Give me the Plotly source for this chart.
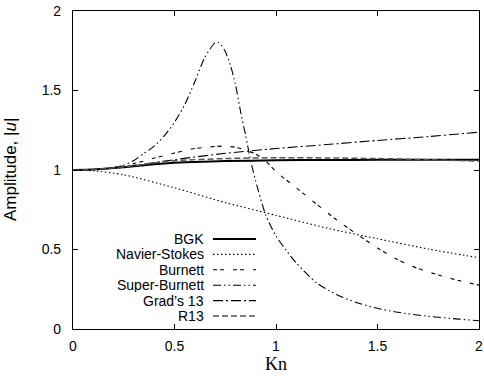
import plotly.graph_objects as go

# ---------------- data ----------------
kn_bgk = [0, 0.1, 0.2, 0.3, 0.4, 0.5, 0.6, 0.75, 1.0, 1.25, 1.5, 1.75, 2.0]
amp_bgk = [1.0, 1.003, 1.012, 1.024, 1.036, 1.045, 1.051, 1.056, 1.061, 1.063, 1.064, 1.065, 1.065]

kn_ns = [0, 0.1, 0.25, 0.5, 0.75, 1.0, 1.25, 1.5, 1.75, 2.0]
amp_ns = [1.0, 0.995, 0.97, 0.888, 0.795, 0.715, 0.635, 0.568, 0.503, 0.448]

kn_burnett = [0, 0.1, 0.2, 0.3, 0.4, 0.5, 0.6, 0.7, 0.75, 0.8, 0.85, 0.9, 0.95,
              1.0, 1.1, 1.2, 1.3, 1.4, 1.5, 1.6, 1.7, 1.8, 1.9, 2.0]
amp_burnett = [1.0, 1.003, 1.015, 1.04, 1.075, 1.107, 1.135, 1.148, 1.15, 1.143, 1.125, 1.10, 1.055,
               0.99, 0.888, 0.785, 0.685, 0.595, 0.51, 0.435, 0.38, 0.34, 0.305, 0.276]

kn_sb = [0, 0.1, 0.2, 0.25, 0.3, 0.35, 0.4, 0.45, 0.5, 0.55, 0.6, 0.65, 0.7, 0.72,
         0.75, 0.775, 0.8, 0.825, 0.85, 0.875, 0.9, 0.95, 1.0, 1.05, 1.1, 1.2, 1.3,
         1.4, 1.5, 1.6, 1.75, 1.9, 2.0]
amp_sb = [1.0, 1.002, 1.015, 1.03, 1.06, 1.105, 1.15, 1.215, 1.30, 1.41, 1.555, 1.71, 1.80, 1.80,
          1.745, 1.66, 1.54, 1.37, 1.22, 1.06, 0.93, 0.715, 0.585, 0.495, 0.415, 0.29, 0.215,
          0.165, 0.13, 0.105, 0.08, 0.062, 0.052]

kn_g13 = [0, 0.1, 0.25, 0.5, 0.75, 1.0, 1.25, 1.5, 1.75, 2.0]
amp_g13 = [1.0, 1.003, 1.02, 1.065, 1.105, 1.135, 1.16, 1.186, 1.21, 1.238]

kn_r13 = [0, 0.1, 0.25, 0.5, 0.75, 1.0, 1.25, 1.5, 1.75, 2.0]
amp_r13 = [1.0, 1.003, 1.02, 1.058, 1.072, 1.077, 1.076, 1.072, 1.065, 1.056]

series_names = ["BGK", "Navier-Stokes", "Burnett", "Super-Burnett", "Grad\u2019s 13", "R13"]
x_ticks = [0, 0.5, 1, 1.5, 2]
x_tick_labels = ["0", "0.5", "1", "1.5", "2"]
y_ticks = [0, 0.5, 1, 1.5, 2]
y_tick_labels = ["0", "0.5", "1", "1.5", "2"]
x_title = "Kn"
y_title = "Amplitude, |<i>u</i>|"

# ---------------- styles ----------------
styles = [
    dict(color="#000000", width=2.0, dash="solid"),
    dict(color="#000000", width=1.1, dash="1.5px,2.5px"),
    dict(color="#000000", width=1.1, dash="4px,3px,4px,9px"),
    dict(color="#000000", width=1.1, dash="8px,3px,1.5px,3px,1.5px,3px"),
    dict(color="#000000", width=1.1, dash="10px,3px,2px,3px"),
    dict(color="#555555", width=1.5, dash="6px,3px"),
]
xs = [kn_bgk, kn_ns, kn_burnett, kn_sb, kn_g13, kn_r13]
ys = [amp_bgk, amp_ns, amp_burnett, amp_sb, amp_g13, amp_r13]

fig = go.Figure()
for name, x, y, st in zip(series_names, xs, ys, styles):
    fig.add_trace(go.Scatter(x=x, y=y, mode="lines", name=name,
                             line=dict(shape="spline", smoothing=0.7, **st),
                             showlegend=False))

# ---------------- manual legend (text left, sample right) ----------------
W, H = 484, 376
ml, mr, mt, mb = 73, 5, 11, 47
pw, ph = W - ml - mr, H - mt - mb
text_right_px = 205
sample_x0_px, sample_x1_px = 213, 256
row0_px, row_step_px = 239, 15.4
shapes = []
annotations = []
for i, (name, st) in enumerate(zip(series_names, styles)):
    ypx = row0_px + i * row_step_px
    yp = (H - mb - ypx) / ph
    annotations.append(dict(x=(text_right_px - ml) / pw, y=yp, xref="paper", yref="paper",
                            text=name, showarrow=False, xanchor="right", yanchor="middle",
                            height=14, borderpad=0, valign="middle",
                            font=dict(family="Liberation Sans, Arial", size=14, color="#000")))
    shapes.append(dict(type="line", xref="paper", yref="paper",
                       x0=(sample_x0_px - ml) / pw, x1=(sample_x1_px - ml) / pw, y0=yp, y1=yp,
                       line=dict(color=st["color"], width=st["width"], dash=st["dash"])))

# axis titles placed as annotations for exact positioning
annotations.append(dict(x=0.5, y=(H - mb - 364) / ph, xref="paper", yref="paper",
                        text=x_title, showarrow=False, xanchor="center", yanchor="middle",
                        borderpad=0,
                        font=dict(family="Liberation Serif, DejaVu Serif", size=18, color="#000")))
annotations.append(dict(x=(10 - ml) / pw, y=0.5, xref="paper", yref="paper",
                        text=y_title, showarrow=False, xanchor="center", yanchor="middle",
                        textangle=-90,
                        font=dict(family="Liberation Sans, Arial", size=17, color="#000")))

axis_common = dict(showline=True, linecolor="#000", linewidth=1.2, mirror="allticks",
                   ticks="inside", ticklen=5, tickwidth=1, tickcolor="#000",
                   showgrid=False, zeroline=False, automargin=False,
                   tickfont=dict(family="Liberation Sans, Arial", size=14, color="#000"))

fig.update_layout(
    width=W, height=H,
    margin=dict(l=ml, r=mr, t=mt, b=mb, autoexpand=False),
    paper_bgcolor="white", plot_bgcolor="white",
    shapes=shapes, annotations=annotations,
    xaxis=dict(range=[0, 2], tickvals=x_ticks, ticktext=x_tick_labels,
               ticklabelstandoff=4, **axis_common),
    yaxis=dict(range=[0, 2], tickvals=y_ticks, ticktext=y_tick_labels,
               ticklabelstandoff=8, **axis_common),
)
fig.write_html("out.html")
